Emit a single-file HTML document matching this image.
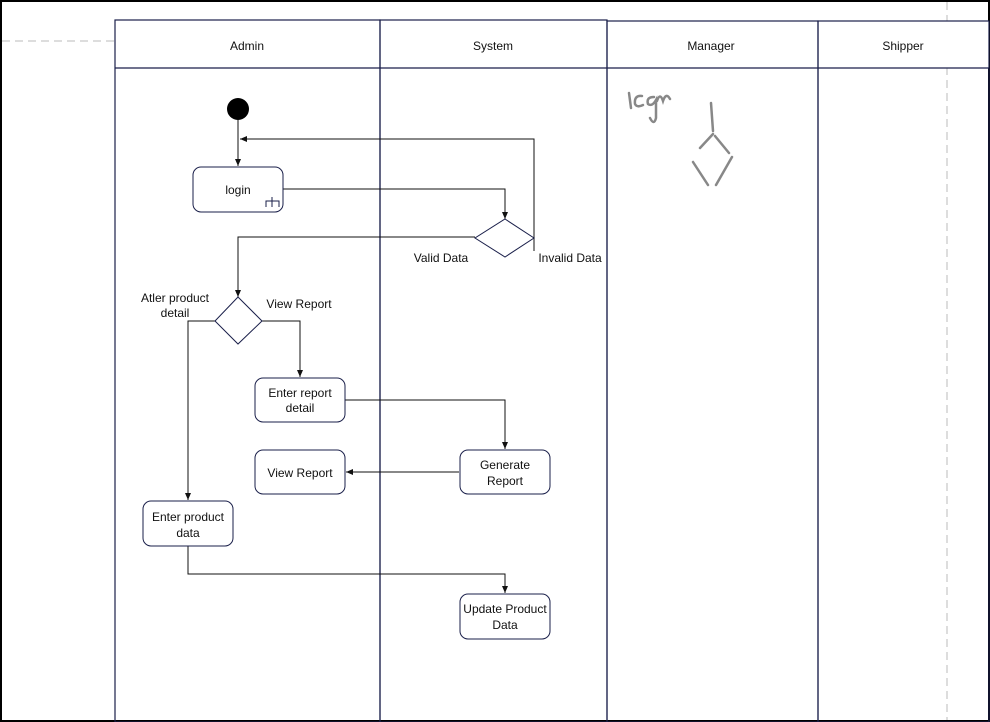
<!DOCTYPE html>
<html><head><style>
html,body{margin:0;padding:0;background:#fff}
svg{display:block}
text{font-family:"Liberation Sans","DejaVu Sans",sans-serif;font-size:12px;fill:#111}
</style></head><body>
<svg width="990" height="722" viewBox="0 0 990 722" xmlns="http://www.w3.org/2000/svg">
<defs><marker id="a" markerWidth="8" markerHeight="8" refX="7" refY="4" orient="auto" markerUnits="userSpaceOnUse"><path d="M0,1 L7,4 L0,7 z" fill="#111"/></marker></defs>
<rect x="1" y="1" width="988" height="720" fill="#fff" stroke="#000" stroke-width="2"/>
<line x1="2" y1="41" x2="115" y2="41" stroke="#bbb" stroke-dasharray="8,5"/>
<line x1="947" y1="2" x2="947" y2="720" stroke="#bbb" stroke-dasharray="8,5"/>
<rect x="818" y="21" width="171" height="47" fill="#fff"/>
<g fill="none" stroke="#1a1f4a" stroke-width="1.2">
<rect x="115" y="20" width="265" height="702"/>
<rect x="380" y="20" width="227" height="702"/>
<rect x="607" y="21" width="211" height="701"/>
<rect x="818" y="21" width="171" height="701"/>
<line x1="115" y1="68" x2="989" y2="68"/>
</g>
<text x="247" y="50" text-anchor="middle">Admin</text>
<text x="493" y="50" text-anchor="middle">System</text>
<text x="711" y="50" text-anchor="middle">Manager</text>
<text x="903" y="50" text-anchor="middle">Shipper</text>
<g fill="none" stroke="#888" stroke-width="2.5" stroke-linecap="round">
<path d="M629,93 L631,108 M642,96 Q634,95 635,104 Q637,108 643,105 M654,97 Q646,97 648,104 Q652,107 656,100 L656,118 Q654,126 650,118 M657,101 Q660,92 663,101 Q666,92 670,99"/>
<path d="M711,103 L713,131 M713,134 L700,148 M715,136 L729,153 M693,162 L708,185 M732,157 L716,185"/>
</g>
<circle cx="238" cy="109" r="11" fill="#000"/>
<g fill="none" stroke="#111" stroke-width="1">
<line x1="238" y1="120" x2="238" y2="166" marker-end="url(#a)"/>
<polyline points="534,251 534,139 240,139" marker-end="url(#a)"/>
<polyline points="283,189 505,189 505,219" marker-end="url(#a)"/>
<polyline points="475,237 238,237 238,297" marker-end="url(#a)"/>
<polyline points="262,321 300,321 300,377" marker-end="url(#a)"/>
<polyline points="215,321 188,321 188,500" marker-end="url(#a)"/>
<polyline points="345,400 505,400 505,449" marker-end="url(#a)"/>
<line x1="459" y1="472" x2="346" y2="472" marker-end="url(#a)"/>
<polyline points="188,546 188,574 505,574 505,593" marker-end="url(#a)"/>
</g>
<g fill="#fff" stroke="#1a1f4a" stroke-width="1">
<rect x="193" y="167" width="90" height="45" rx="8"/>
<polygon points="505,219 534,238 505,257 475,238"/>
<polygon points="238,297 262,321 238,344 215,321"/>
<rect x="255" y="378" width="90" height="44" rx="8"/>
<rect x="460" y="450" width="90" height="44" rx="8"/>
<rect x="255" y="450" width="90" height="44" rx="8"/>
<rect x="143" y="501" width="90" height="45" rx="8"/>
<rect x="460" y="594" width="90" height="45" rx="8"/>
</g>
<path d="M266,207 L266,201 L279,201 L279,207 M272,197 L272,207" fill="none" stroke="#1a1f4a"/>
<text x="238" y="194" text-anchor="middle">login</text>
<text x="441" y="262" text-anchor="middle">Valid Data</text>
<text x="570" y="262" text-anchor="middle">Invalid Data</text>
<text x="175" y="302" text-anchor="middle">Atler product</text>
<text x="175" y="317" text-anchor="middle">detail</text>
<text x="299" y="308" text-anchor="middle">View Report</text>
<text x="300" y="397" text-anchor="middle">Enter report</text>
<text x="300" y="412" text-anchor="middle">detail</text>
<text x="505" y="469" text-anchor="middle">Generate</text>
<text x="505" y="485" text-anchor="middle">Report</text>
<text x="300" y="477" text-anchor="middle">View Report</text>
<text x="188" y="521" text-anchor="middle">Enter product</text>
<text x="188" y="537" text-anchor="middle">data</text>
<text x="505" y="613" text-anchor="middle">Update Product</text>
<text x="505" y="629" text-anchor="middle">Data</text>
</svg>
</body></html>
